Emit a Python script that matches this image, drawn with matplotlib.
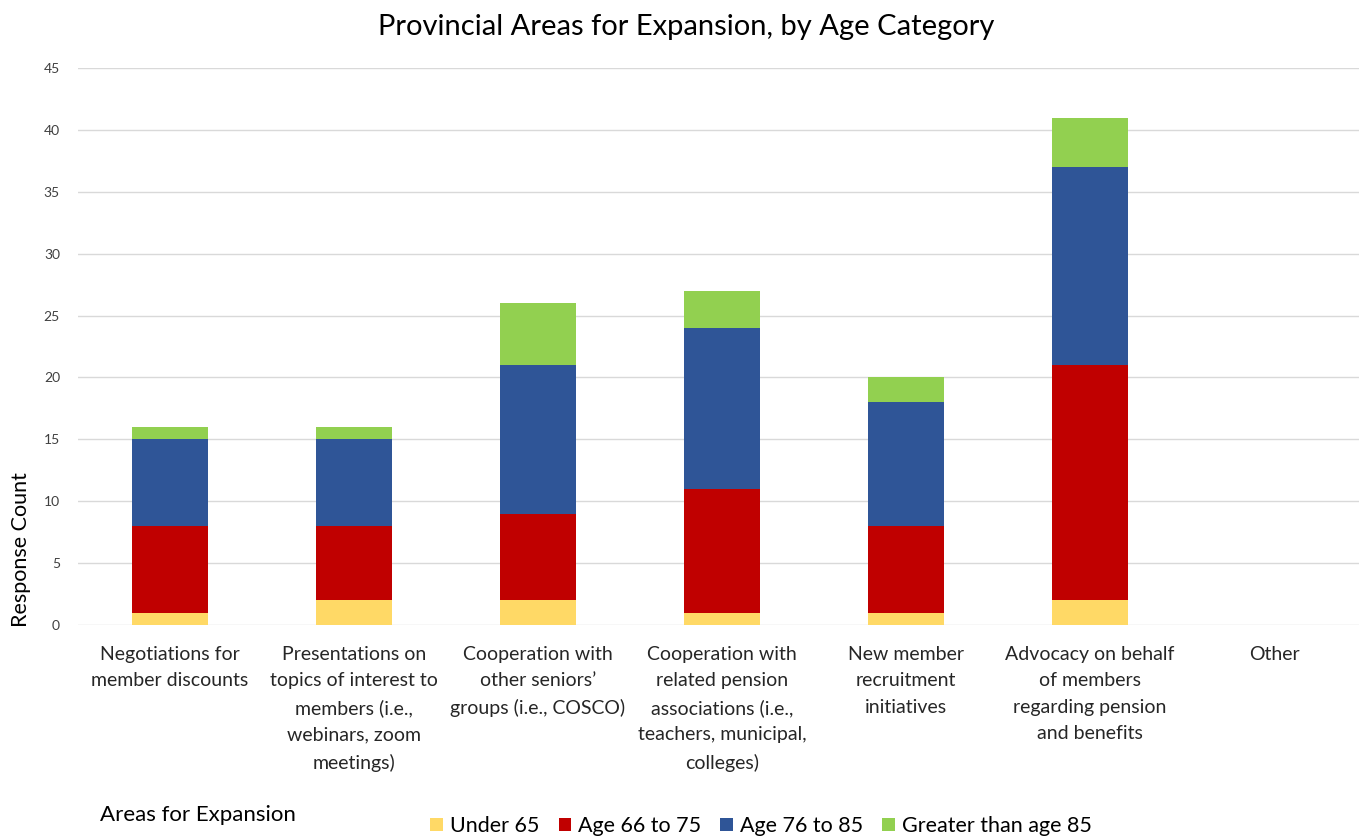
import matplotlib
matplotlib.use("Agg")
import matplotlib.pyplot as plt
import numpy as np

plt.rcParams['font.family'] = ['Lato', 'DejaVu Sans']

categories = [
    "Negotiations for\nmember discounts",
    "Presentations on\ntopics of interest to\nmembers (i.e.,\nwebinars, zoom\nmeetings)",
    "Cooperation with\nother seniors\u2019\ngroups (i.e., COSCO)",
    "Cooperation with\nrelated pension\nassociations (i.e.,\nteachers, municipal,\ncolleges)",
    "New member\nrecruitment\ninitiatives",
    "Advocacy on behalf\nof members\nregarding pension\nand benefits",
    "Other",
]
series_names = ["Under 65", "Age 66 to 75", "Age 76 to 85", "Greater than age 85"]
under_65 = [1, 2, 2, 1, 1, 2, 0]
age_66_75 = [7, 6, 7, 10, 7, 19, 0]
age_76_85 = [7, 7, 12, 13, 10, 16, 0]
over_85 = [1, 1, 5, 3, 2, 4, 0]
colors = ["#FFD966", "#C00000", "#2F5597", "#92D050"]

W, H = 1359, 836
fig = plt.figure(figsize=(W / 100, H / 100), dpi=100)
left = 78 / W
bottom = (H - 625) / H
top = (H - 68) / H
ax = fig.add_axes([left, bottom, 1 - left, top - bottom])

x = np.arange(len(categories))
bottoms = np.zeros(len(categories))
for vals, name, c in zip([under_65, age_66_75, age_76_85, over_85], series_names, colors):
    ax.bar(x, vals, width=0.41, bottom=bottoms, color=c, label=name, zorder=3)
    bottoms += np.array(vals)

ax.set_xlim(-0.5, (W - 78) / 184 - 0.5)
ax.set_ylim(0, 45)
ax.set_yticks(range(0, 46, 5))
ax.yaxis.grid(True, color="#D9D9D9", linewidth=1, zorder=0)
for s in ["top", "right", "left", "bottom"]:
    ax.spines[s].set_visible(False)
ax.tick_params(axis="both", length=0)
ax.tick_params(axis="y", labelsize=10, labelcolor="#404040", pad=13)
ax.set_xticks(x)
ax.set_xticklabels([""] * len(categories))
for xi, lab in zip(x, categories):
    ax.annotate(lab, xy=(xi, 0), xycoords=("data", "axes fraction"),
                xytext=(0, -15), textcoords="offset points",
                ha="center", va="top", fontsize=14, color="#262626",
                linespacing=1.67, annotation_clip=False)

fig.text(21 / W, (H - 550) / H, "Response Count", rotation=90, ha="center", va="center",
         fontsize=15.5, color="#000000")

fig.text(686 / W, (H - 27) / H, "Provincial Areas for Expansion, by Age Category",
         ha="center", va="center", fontsize=21, color="#000000")
fig.text(100 / W, (H - 815) / H, "Areas for Expansion", ha="left", va="center",
         fontsize=16, color="#000000")

fig.legend(loc="center", bbox_to_anchor=(761 / W, (H - 826) / H), ncol=4, frameon=False,
           fontsize=15.5, handlelength=0.6, handleheight=0.6, handletextpad=0.3,
           columnspacing=0.9, borderpad=0.1)

fig.savefig("out.png", dpi=100)
